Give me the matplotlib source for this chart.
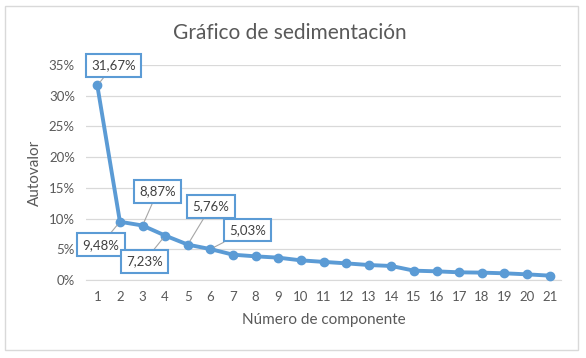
import matplotlib.pyplot as plt
from matplotlib.patches import Rectangle
from matplotlib.ticker import FuncFormatter, MultipleLocator

plt.rcParams['font.family'] = ['Lato', 'DejaVu Sans']

componentes = list(range(1, 22))
autovalor = [31.67, 9.48, 8.87, 7.23, 5.76, 5.03, 4.12, 3.85, 3.64, 3.20,
             2.95, 2.71, 2.44, 2.28, 1.52, 1.41, 1.25, 1.20, 1.09, 0.92, 0.71]
# label offsets in pixels for the first six points
etiquetas = {1: (16, 20), 2: (-19, -23), 3: (15, 34),
             4: (-21, -26), 5: (23, 38), 6: (37, 19)}

azul = '#5B9BD5'
gris = '#595959'

fig = plt.figure(figsize=(5.86, 3.58), dpi=100)
fig.patches.append(Rectangle((5 / 586, 8 / 358), 573 / 586, 344 / 358,
                             transform=fig.transFigure, fill=False,
                             edgecolor='#d9d9d9', lw=1))
ax = fig.add_axes([86 / 586, 1 - 280 / 358, 475 / 586, 215 / 358])

ax.plot(componentes, autovalor, color=azul, lw=2.8, marker='o', ms=6,
        zorder=3, clip_on=False)

for i, (dx, dy) in etiquetas.items():
    v = autovalor[i - 1]
    ax.annotate(f"{v:.2f}".replace('.', ',') + '%', xy=(i, v),
                xytext=(dx, dy), textcoords='offset pixels',
                ha='center', va='center', fontsize=9.5, color='#404040',
                bbox=dict(boxstyle='square,pad=0.4', fc='white', ec=azul, lw=1.5),
                arrowprops=dict(arrowstyle='-', color='#a6a6a6', lw=0.8,
                                shrinkA=0, shrinkB=3),
                zorder=5)

ax.set_xlim(0.5, 21.5)
ax.set_ylim(0, 35)
ax.set_xticks(componentes)
ax.yaxis.set_major_locator(MultipleLocator(5))
ax.yaxis.set_major_formatter(FuncFormatter(lambda y, p: f"{y:.0f}%"))
ax.grid(axis='y', color='#d9d9d9', lw=0.9)
ax.set_axisbelow(True)
for s in ['top', 'right', 'left']:
    ax.spines[s].set_visible(False)
ax.spines['bottom'].set_color('#d9d9d9')
ax.tick_params(length=0, labelsize=9.5, colors=gris, pad=8)

fig.text(290 / 586, 1 - 33 / 358, 'Gráfico de sedimentación', fontsize=15,
         color=gris, ha='center', va='center')
ax.set_xlabel('Número de componente', fontsize=11, color=gris, labelpad=7)
ax.set_ylabel('Autovalor', fontsize=11, color=gris, labelpad=5)

fig.savefig('out.png', dpi=100)
